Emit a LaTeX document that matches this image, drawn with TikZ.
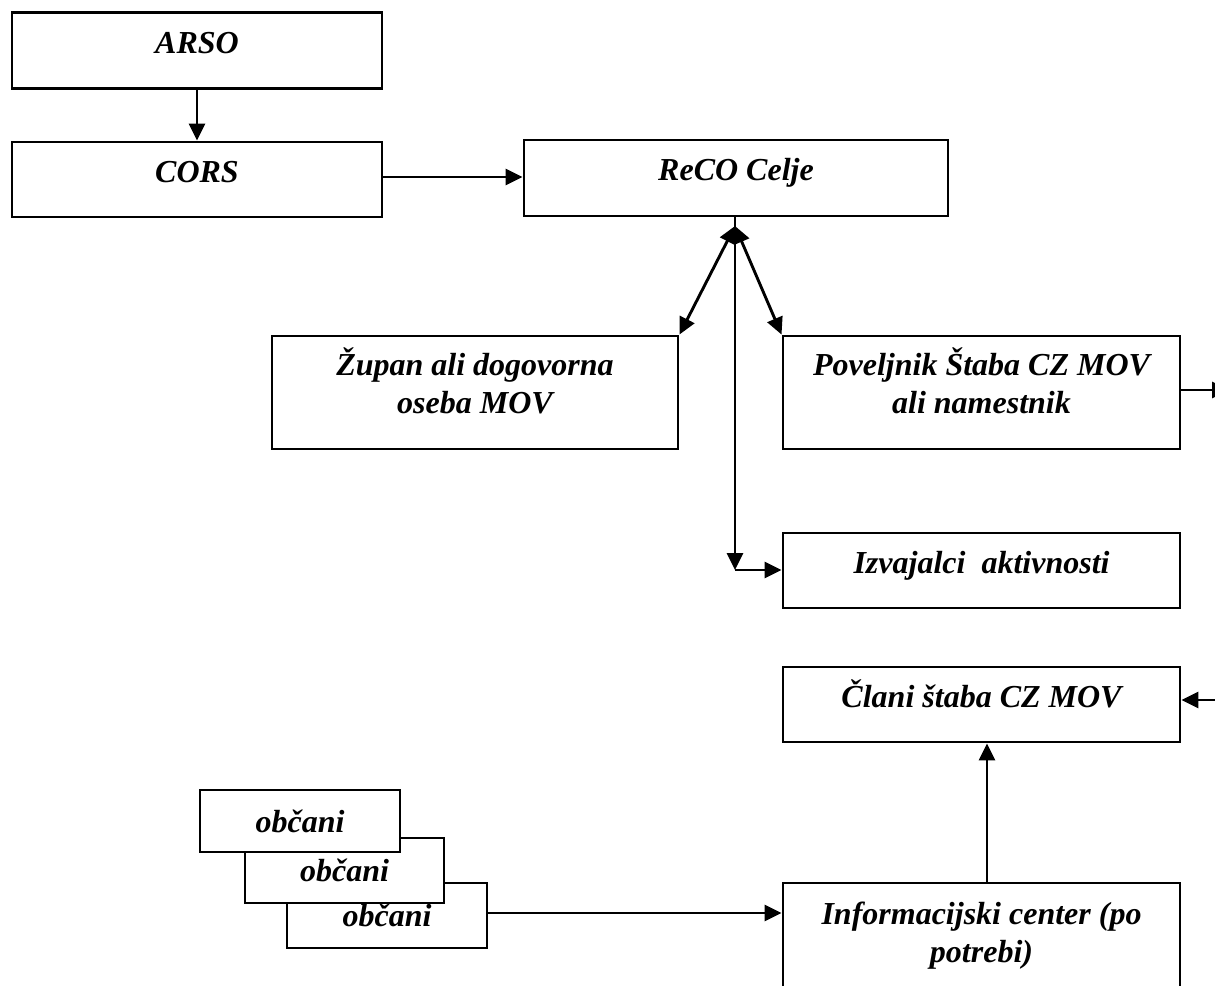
\documentclass[tikz,border=0pt]{standalone}
\usepackage{fontspec}
\setmainfont{Liberation Serif}
\usetikzlibrary{arrows.meta}
\begin{document}
\begin{tikzpicture}[x=1pt,y=-1pt,
  txt/.style={inner sep=0pt,align=center,font=\fontsize{32}{38}\selectfont\bfseries\itshape},
  obox/.style={txt,draw,line width=2.9pt,fill=white},
  box/.style={obox,text height=22pt,text depth=17pt},
  box2/.style={obox,text height=61pt,text depth=20pt},
  conn/.style={line width=2.9pt,-{Triangle[length=17pt,width=16pt]}},
  dconn/.style={line width=2.9pt,{Triangle[length=17pt,width=16pt]}-{Triangle[length=17pt,width=16pt]}}]
\useasboundingbox (0,0) rectangle (1215,985);
\node[box,minimum width=370pt,minimum height=76pt] (arso) at (197,50.5) {ARSO};
\node[box,minimum width=370pt,minimum height=75pt] (cors) at (197,179.5) {CORS};
\node[box,minimum width=424pt,minimum height=76pt] (reco) at (736,178) {ReCO Celje};
\node[box2,minimum width=406pt,minimum height=113pt] (zupan) at (475,392.5) {Župan ali dogovorna\\oseba MOV};
\node[box2,minimum width=397pt,minimum height=113pt] (pov) at (981.5,392.5) {Poveljnik Štaba CZ MOV\\ali namestnik};
\node[box,minimum width=397pt,minimum height=75pt] (izv) at (981.5,570.5) {Izvajalci\ \ aktivnosti};
\node[box,minimum width=397pt,minimum height=75pt] (clani) at (981.5,704.5) {Člani štaba CZ MOV};
\node[obox,minimum width=397pt,minimum height=130pt] (info) at (981.5,948) {};
\node[txt] (infotxt) at (981.5,936) {Informacijski center (po\\potrebi)};
\node[obox,minimum width=200pt,minimum height=65pt] (ob3) at (387,915.5) {občani};
\node[obox,minimum width=199pt,minimum height=65pt] (ob2) at (344.5,870.5) {občani};
\node[obox,minimum width=200pt,minimum height=62pt] (ob1) at (300,821) {občani};
\coordinate (top) at (735,226);
\coordinate (corner) at (735,570);
\coordinate (povout) at (1229,390);
\coordinate (claniin) at (1240,700);
\draw[conn] (arso) -- (cors);
\draw[conn] (cors.east |- 0,177) -- (reco.west |- 0,177);
\draw[dconn] (top) -- (zupan.north east);
\draw[dconn] (top) -- (pov.north west);
\draw[conn] (reco.south -| corner) -- (corner);
\draw[conn] (corner) -- (izv.west |- corner);
\draw[conn] (pov.east |- povout) -- (povout);
\draw[conn] (claniin) -- (clani.east |- claniin);
\draw[conn] (info.north -| 987,0) -- (clani.south -| 987,0);
\draw[conn] (ob3.east |- 0,913) -- (info.west |- 0,913);
\end{tikzpicture}
\end{document}
